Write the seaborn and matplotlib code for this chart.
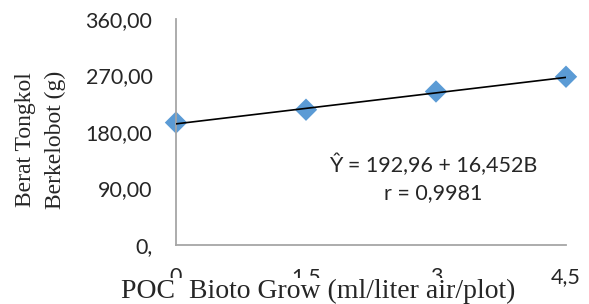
import seaborn as sns
import pandas as pd
import matplotlib.pyplot as plt

# data
dosis = [0, 1.5, 3, 4.5]
berat = [195.0, 215.5, 244.5, 268.0]
intercept = 192.96
slope = 16.452
y_ticks = [0, 90, 180, 270, 360]
y_labels = ['0,', '90,00', '180,00', '270,00', '360,00']
x_ticks = [0, 1.5, 3, 4.5]
x_labels = ['0', '1,5', '3', '4,5']

df = pd.DataFrame({'dosis': dosis, 'berat': berat})
df['fit'] = intercept + slope * df['dosis']

sns.set_style('white')
plt.rcParams['font.family'] = ['Lato', 'DejaVu Sans']

W, H = 589, 304
fig = plt.figure(figsize=(W / 100, H / 100), dpi=100)
ax = fig.add_axes([176 / W, 1 - 245 / H, (566 - 176) / W, (245 - 19) / H])

sns.lineplot(data=df, x='dosis', y='fit', color='black', linewidth=1.2, ax=ax, zorder=3)
sns.scatterplot(data=df, x='dosis', y='berat', marker='D', s=130, color='#5B9BD5',
                edgecolor='none', ax=ax, zorder=2, clip_on=False)

ax.set_xlim(0, 4.5)
ax.set_ylim(0, 360)
ax.set_xticks(x_ticks)
ax.set_xticklabels(x_labels, fontsize=15.5)
ax.set_yticks(y_ticks)
ax.set_yticklabels(y_labels, fontsize=15.5)
ax.set_xlabel('')
ax.set_ylabel('')

for s in ['top', 'right']:
    ax.spines[s].set_visible(False)
for s in ['left', 'bottom']:
    ax.spines[s].set_color('#a6a6a6')
    ax.spines[s].set_linewidth(1.3)
ax.tick_params(axis='both', direction='out', length=6, width=1.3, color='#a6a6a6')
ax.tick_params(axis='y', pad=11)
ax.tick_params(axis='x', pad=10)

fig.text(433 / W, 1 - 165 / H, '\u0176 = 192,96 + 16,452B', fontsize=15.5,
         ha='center', va='center')
fig.text(433 / W, 1 - 193 / H, 'r = 0,9981', fontsize=15.5, ha='center', va='center')

fig.text(318 / W, 1 - 291 / H, 'POC  Bioto Grow (ml/liter air/plot)',
         family='Liberation Serif', fontsize=20, ha='center', va='center',
         bbox=dict(facecolor='white', edgecolor='none', pad=0.3))
fig.text(26 / W, 1 - 140 / H, 'Berat Tongkol', family='Liberation Serif',
         fontsize=17, rotation=90, ha='center', va='center')
fig.text(55 / W, 1 - 140 / H, 'Berkelobot (g)', family='Liberation Serif',
         fontsize=17, rotation=90, ha='center', va='center')

fig.savefig('out.png', dpi=100)
